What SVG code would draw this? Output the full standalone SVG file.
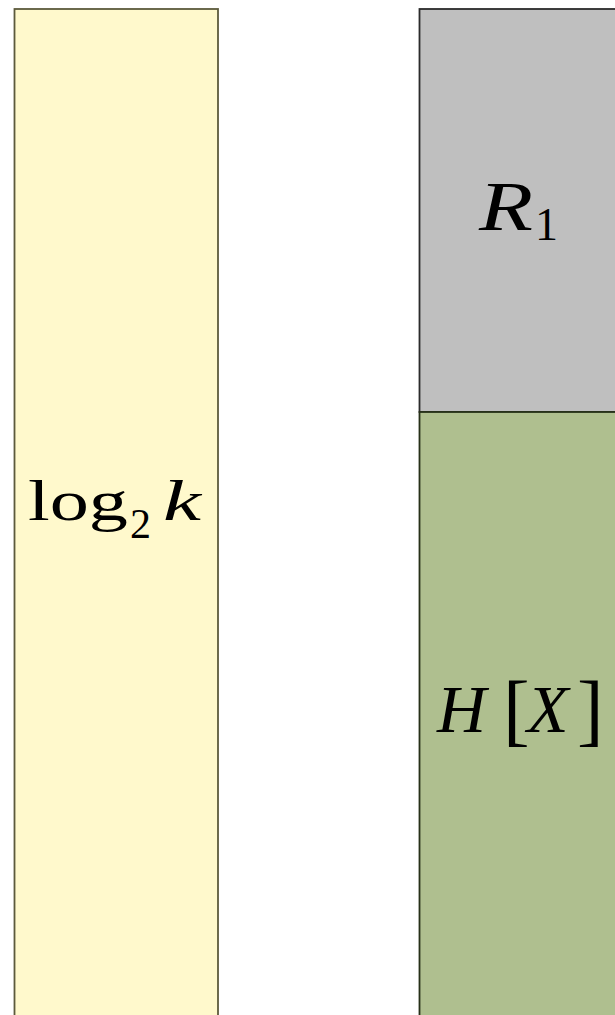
<svg xmlns="http://www.w3.org/2000/svg" width="615" height="1015" viewBox="0 0 615 1015">
<style>
.m{font-family:"Liberation Serif","DejaVu Serif",serif;fill:#000}
.i{font-style:italic}
</style>
<rect width="615" height="1015" fill="#fff"/>
<g id="log2k">
<rect x="14.5" y="9" width="203.5" height="1030" fill="#fff9cc" stroke="#5c5a3c" stroke-width="1.8"/>
<text class="m" font-size="58"><tspan x="28" y="520" textLength="100" lengthAdjust="spacingAndGlyphs">log</tspan><tspan x="130" y="538" font-size="42">2</tspan><tspan class="i" x="163" y="520" textLength="38" lengthAdjust="spacingAndGlyphs">k</tspan></text>
</g>
<g id="R1">
<rect x="419.5" y="9" width="210" height="403" fill="#bfbfbf" stroke="#2b2b2b" stroke-width="1.8"/>
<text class="m" font-size="70"><tspan class="i" x="479" y="230" textLength="54" lengthAdjust="spacingAndGlyphs">R</tspan><tspan x="535" y="240" font-size="46">1</tspan></text>
</g>
<g id="HX">
<rect x="419.5" y="412" width="210" height="630" fill="#afbf8f" stroke="#263018" stroke-width="1.8"/>
<text class="m" font-size="68"><tspan class="i" x="437" y="732">H</tspan><tspan x="503" y="736" font-size="80">[</tspan><tspan class="i" x="527" y="732">X</tspan><tspan x="577" y="736" font-size="80">]</tspan></text>
</g>
<g id="connectors"/>
</svg>
